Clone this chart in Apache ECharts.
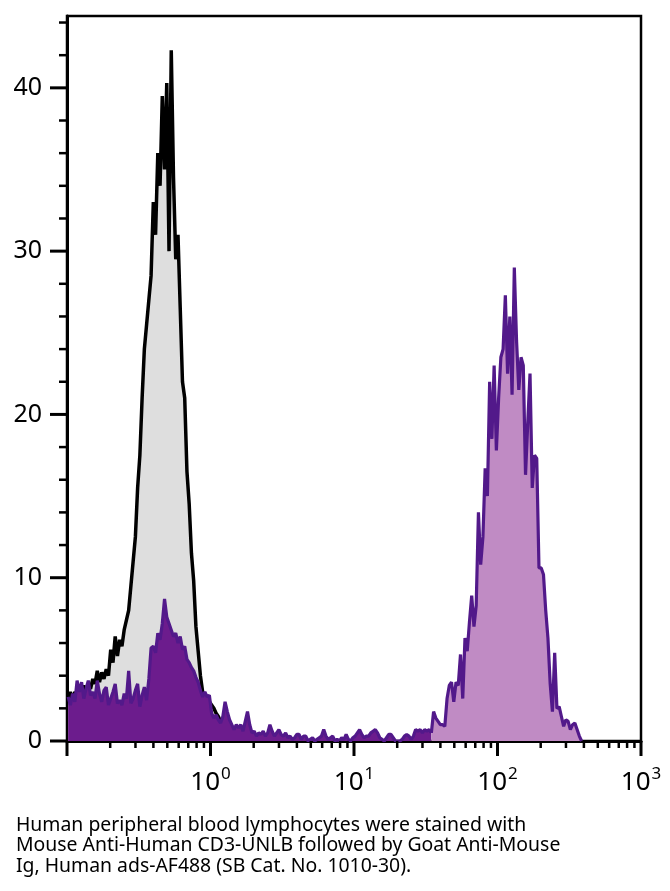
<!DOCTYPE html>
<html>
<head>
<meta charset="utf-8">
<script src="https://cdn.jsdelivr.net/npm/echarts@6/dist/echarts.min.js"></script>
<style>
html,body{margin:0;padding:0;background:#fff;}
#chart{width:670px;height:891px;}
</style>
</head>
<body>
<div id="chart"></div>
<script>
// Histogram channel grid: 256 channels across four decades (0.1 .. 1000)
const channelCount = 256;
const logMin = -1;
const logMax = 3;

// Isotype / unstained control (grey fill, black outline), channels 0..75
const controlCounts = [
  2.5, 3.0, 2.5, 3.0, 2.8, 3.2, 3.0, 3.4, 3.0, 3.5,
  3.2, 3.8, 3.5, 4.3, 3.6, 4.2, 3.8, 4.4, 4.0, 5.6,
  4.8, 6.4, 5.2, 6.2, 5.8, 6.8, 7.4, 8.0, 9.5, 11.0,
  12.5, 15.5, 17.5, 21.0, 24.0, 25.5, 27.0, 28.5, 33.0, 31.0,
  36.0, 34.0, 39.5, 35.0, 40.3, 30.0, 42.3, 34.5, 29.5, 31.0,
  26.5, 22.0, 21.0, 16.5, 14.5, 11.5, 9.8, 7.0, 5.5, 4.0,
  3.0, 2.8, 2.5, 2.4, 2.2, 2.0, 1.7, 1.5, 1.2, 1.0,
  0.8, 0.6, 0.4, 0.3, 0.2, 0
];

// CD3 stained sample (purple), channels 0..229
const stainedCounts = [
  2.7, 2.2, 2.9, 2.4, 3.7, 3.0, 3.6, 2.6, 3.2, 3.7,
  2.8, 3.0, 2.6, 3.7, 2.9, 2.4, 3.1, 3.3, 2.2, 2.6,
  3.0, 3.5, 2.3, 2.5, 2.2, 2.9, 2.6, 4.3, 2.3, 2.6,
  3.1, 3.5, 2.1, 2.8, 3.3, 2.5, 3.8, 5.7, 5.8, 5.4,
  6.6, 6.2, 7.2, 8.7, 7.6, 7.2, 6.8, 6.4, 6.6, 6.0,
  6.4, 5.6, 5.8, 5.0, 4.8, 4.5, 4.3, 3.9, 3.6, 3.1,
  2.7, 3.0, 2.7, 2.8, 1.7, 1.4, 1.6, 1.3, 1.1, 1.5,
  2.4, 1.8, 1.3, 1.0, 0.7, 1.0, 0.8, 1.0, 0.6, 1.2,
  1.8, 1.0, 0.5, 0.6, 0.3, 0.5, 0.4, 0.6, 0.3, 0.5,
  1.0, 0.6, 0.3, 0.5, 0.7, 0.4, 0.3, 0.5, 0.2, 0.3,
  0.1, 0.2, 0.4, 0.4, 0.1, 0.3, 0.3, 0, 0.1, 0.2,
  0, 0.1, 0.2, 0.3, 0.7, 0.3, 0.1, 0.2, 0.3, 0,
  0.1, 0, 0.2, 0.1, 0.4, 0.1, 0, 0.2, 0.3, 0.5,
  0.7, 0.4, 0.2, 0.3, 0.3, 0.5, 0.6, 0.7, 0.5, 0.2,
  0.1, 0, 0.2, 0.4, 0.4, 0.2, 0, 0, 0, 0.1,
  0.3, 0.4, 0.3, 0.1, 0.3, 0.7, 0.6, 0.7, 0.5, 0.7,
  0.6, 0.7, 0.5, 1.8, 1.4, 1.2, 1.0, 1.0, 0.9, 2.6,
  3.4, 3.6, 2.4, 3.6, 3.4, 5.3, 2.6, 6.3, 5.5, 7.3,
  8.9, 7.0, 8.3, 14.0, 10.8, 12.5, 16.7, 15.0, 22.0, 18.5,
  23.0, 17.8, 21.0, 23.5, 24.0, 27.3, 22.5, 26.0, 21.2, 29.0,
  24.5, 21.5, 23.5, 23.0, 16.3, 19.5, 22.5, 15.5, 17.5, 17.3,
  10.6, 10.6, 10.2, 8.0, 6.3, 3.5, 1.8, 5.4, 2.0, 2.1,
  1.5, 0.9, 1.3, 1.2, 0.7, 1.0, 1.1, 0.7, 0.3, 0
];
// channel where the bright (positive) population starts
const positiveStart = 162;

const yTicks = [0,2,4,6,8,10,12,14,16,18,20,22,24,26,28,30,32,34,36,38,40,42,44];
const yMajorTicks = [0,10,20,30,40];
const xMajorTicks = [0.1, 1, 10, 100, 1000];
const xMinorTicks = [0.2,0.3,0.4,0.5,0.6,0.7,0.8,0.9, 2,3,4,5,6,7,8,9, 20,30,40,50,60,70,80,90, 200,300,400,500,600,700,800,900];

const caption = [
  'Human peripheral blood lymphocytes were stained with',
  'Mouse Anti-Human CD3-UNLB followed by Goat Anti-Mouse',
  'Ig, Human ads-AF488 (SB Cat. No. 1010-30).'
];

function channelValue(i) {
  return Math.pow(10, logMin + (i + 0.5) * (logMax - logMin) / channelCount);
}
function toPairs(counts, offset) {
  return counts.map((c, k) => [channelValue(k + offset), c]);
}

const controlData = toPairs(controlCounts, 0);
const stainedLow = toPairs(stainedCounts.slice(0, positiveStart + 1), 0);
const stainedHigh = toPairs(stainedCounts.slice(positiveStart), positiveStart);

const FONT = 'Noto Sans';

const xTickData = xMajorTicks.map(v => [v, 0, 1]).concat(xMinorTicks.map(v => [v, 0, 0]));
const yTickData = yTicks.map(v => [0.1, v, yMajorTicks.indexOf(v) >= 0 ? 1 : 0]);

const chart = echarts.init(document.getElementById('chart'), null, {renderer: 'canvas'});
chart.setOption({
  animation: false,
  backgroundColor: '#ffffff',
  grid: {left: 67, right: 29, top: 16, bottom: 150, show: true, borderColor: '#000', borderWidth: 2.5, backgroundColor: 'transparent'},
  xAxis: {
    type: 'log', logBase: 10, min: 0.1, max: 1000,
    axisLine: {show: true, onZero: false, lineStyle: {color: '#000', width: 3}},
    axisTick: {show: false},
    splitLine: {show: false},
    axisLabel: {
      margin: 25,
      formatter: function (v) {
        if (v < 0.5) return '';
        const e = Math.round(Math.log10(v));
        return '{b|10}{s|' + e + '}';
      },
      rich: {
        b: {fontSize: 26, fontFamily: FONT, color: '#000', verticalAlign: 'bottom', lineHeight: 30},
        s: {fontSize: 17, fontFamily: FONT, color: '#000', verticalAlign: 'top', lineHeight: 30, padding: [0,0,0,1]}
      }
    }
  },
  yAxis: {
    type: 'value', min: 0, max: 44.4, interval: 10,
    axisLine: {show: true, lineStyle: {color: '#000', width: 3}},
    axisTick: {show: false},
    splitLine: {show: false},
    axisLabel: {
      margin: 25, fontSize: 25, fontFamily: FONT, color: '#000', showMaxLabel: false
    }
  },
  series: [
    {
      type: 'line', data: controlData, showSymbol: false, symbol: 'none',
      lineStyle: {color: '#000', width: 3.5},
      areaStyle: {color: '#dedede', opacity: 1},
      z: 2
    },
    {
      type: 'line', data: stainedLow, showSymbol: false, symbol: 'none',
      lineStyle: {color: '#52198a', width: 3.2},
      areaStyle: {color: '#6c1c8d', opacity: 1},
      z: 3
    },
    {
      type: 'line', data: stainedHigh, showSymbol: false, symbol: 'none',
      lineStyle: {color: '#52198a', width: 3.2},
      areaStyle: {color: '#c08bc4', opacity: 1},
      z: 3
    },
    {
      type: 'custom', data: xTickData, clip: false, silent: true, z: 5,
      encode: {x: 0, y: 1},
      renderItem: function (params, api) {
        const p = api.coord([api.value(0), api.value(1)]);
        const major = api.value(2) === 1;
        const len = major ? 15 : 7;
        return {type: 'line', shape: {x1: p[0], y1: p[1], x2: p[0], y2: p[1] + len},
          style: {stroke: '#000', lineWidth: major ? 3 : 2.5}};
      }
    },
    {
      type: 'custom', data: yTickData, clip: false, silent: true, z: 5,
      encode: {x: 0, y: 1},
      renderItem: function (params, api) {
        const p = api.coord([api.value(0), api.value(1)]);
        const major = api.value(2) === 1;
        const len = major ? 17 : 8;
        return {type: 'line', shape: {x1: p[0] - len, y1: p[1], x2: p[0], y2: p[1]},
          style: {stroke: '#000', lineWidth: major ? 3 : 2.5}};
      }
    }
  ],
  graphic: [{
    type: 'text', left: 16, top: 815,
    style: {text: caption.join('\n'), fontSize: 19.4, lineHeight: 20.5, fontFamily: FONT, fill: '#000'}
  }]
});
</script>
</body>
</html>
